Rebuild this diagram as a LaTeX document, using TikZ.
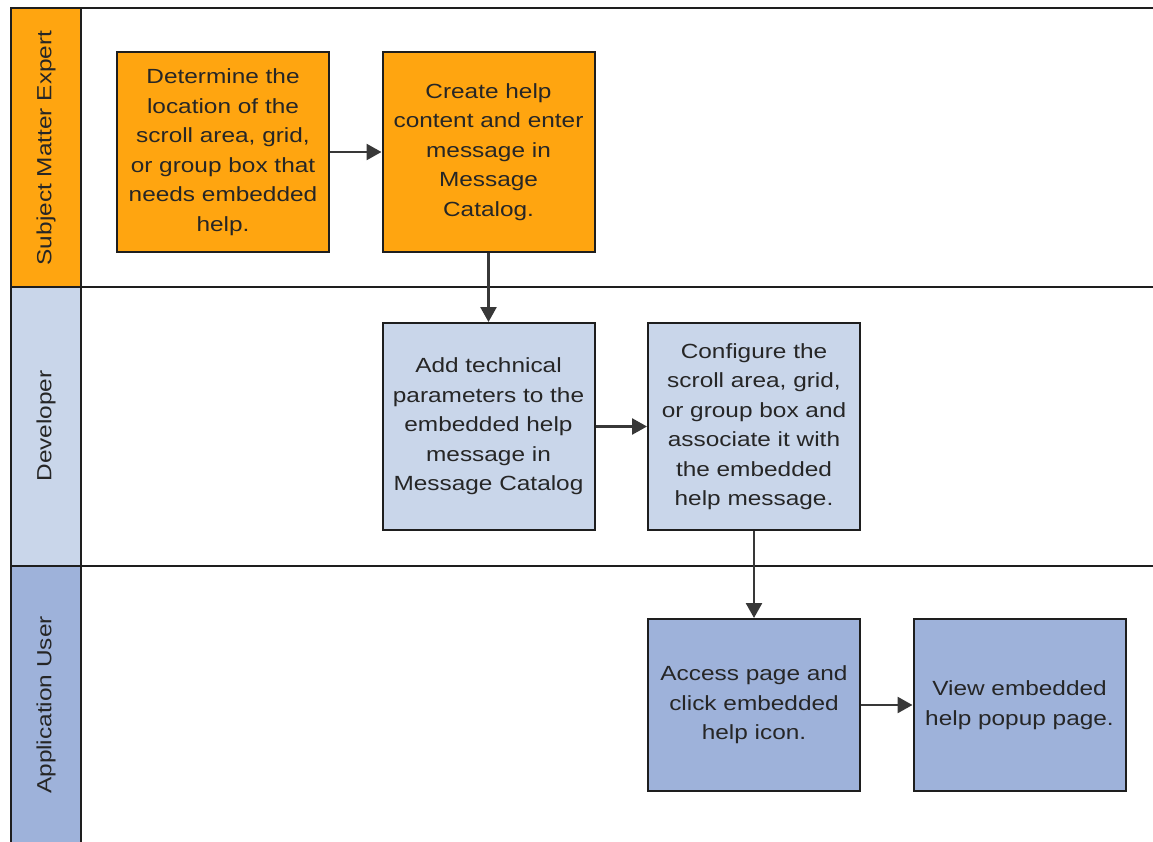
\documentclass[tikz,border=0pt]{standalone}
\usepackage{fontspec}
\setmainfont{Liberation Sans}[FakeStretch=1.19]
\usetikzlibrary{arrows.meta}

\definecolor{smeorange}{RGB}{255,165,16}
\definecolor{devblue}{RGB}{201,214,234}
\definecolor{userblue}{RGB}{158,178,218}
\definecolor{lineclr}{RGB}{30,30,30}

\begin{document}
\begin{tikzpicture}[x=1pt, y=-1pt,
  task/.style={draw=lineclr, line width=2pt, minimum width=212pt, inner sep=0pt,
    align=center, text=black!85, font=\fontsize{20.5}{29.5}\selectfont},
  lanelabel/.style={rotate=90, text=black!85, font=\fontsize{20.5}{24}\selectfont},
  laneline/.style={draw=lineclr, line width=2pt},
  flow/.style={-{Triangle[length=15pt,width=16pt]}, draw=black!78, line width=2.6pt}]
  \useasboundingbox (0,0) rectangle (1153,842);
  % Lane headers.
  \fill[smeorange] (11,8) rectangle (81,287);
  \fill[devblue] (11,287) rectangle (81,566);
  \fill[userblue] (11,566) rectangle (81,842);
  \node[lanelabel] (sme) at (46,148) {Subject Matter Expert};
  \node[lanelabel] (dev) at (46,426) {Developer};
  \node[lanelabel] (user) at (46,705) {Application User};
  % Lane borders.
  \draw[laneline] (11,842) -- (11,8) -- (1153,8);
  \draw[laneline] (81,8) -- (81,842);
  \draw[laneline] (11,287) -- (1153,287);
  \draw[laneline] (11,566) -- (1153,566);
  % Subject matter expert tasks.
  \node[task, fill=smeorange, minimum height=200pt] (locate) at (223,152)
    {Determine the\\location of the\\scroll area, grid,\\or group box that\\needs embedded\\help.};
  \node[task, fill=smeorange, minimum height=200pt] (create) at (488.5,152)
    {Create help\\content and enter\\message in\\Message\\Catalog.};
  % Developer tasks.
  \node[task, fill=devblue, minimum height=207pt] (params) at (488.5,426.5)
    {Add technical\\parameters to the\\embedded help\\message in\\Message Catalog};
  \node[task, fill=devblue, minimum height=207pt] (config) at (754,426.5)
    {Configure the\\scroll area, grid,\\or group box and\\associate it with\\the embedded\\help message.};
  % Application user tasks.
  \node[task, fill=userblue, minimum height=172pt] (access) at (754,705)
    {Access page and\\click embedded\\help icon.};
  \node[task, fill=userblue, minimum height=172pt] (view) at (1019.5,705)
    {View embedded\\help popup page.};
  % Flow.
  \draw[flow] (locate) -- (create);
  \draw[flow] (create) -- (params);
  \draw[flow] (params) -- (config);
  \draw[flow] (config) -- (access);
  \draw[flow] (access) -- (view);
\end{tikzpicture}
\end{document}
